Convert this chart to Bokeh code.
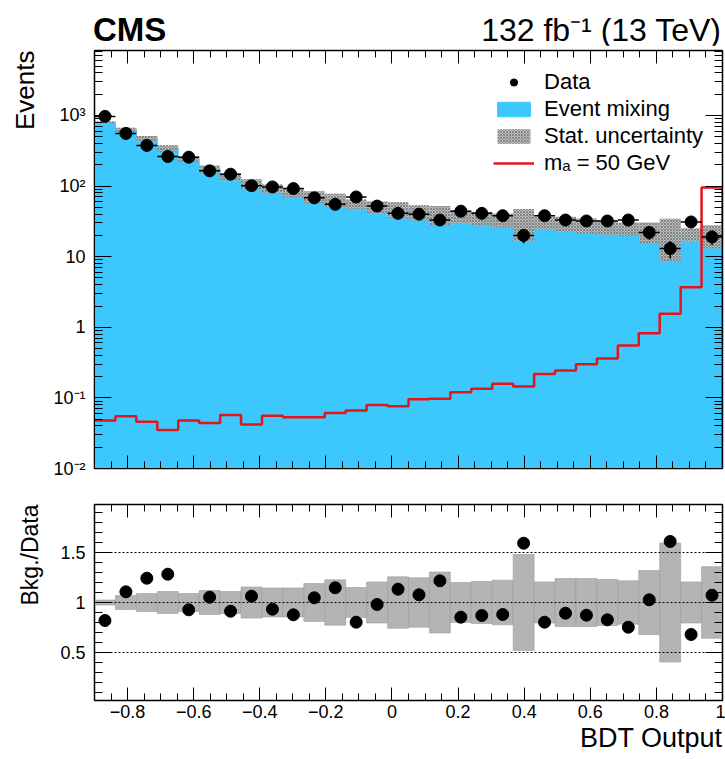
import numpy as np
from bokeh.plotting import figure
from bokeh.layouts import column
from bokeh.models import (Range1d, FixedTicker, LinearAxis, LogAxis, Legend,
                          LegendItem, Span, Title, Div)
from bokeh.embed import file_html
from bokeh.resources import INLINE

# ---------------- data ----------------
x_lo, x_hi = -0.9, 1.0
n_bins = 30
data = [968, 556, 376, 262, 256, 164, 147, 101, 97, 92, 68, 55, 70, 52, 41,
        40, 33, 44, 41, 38, 20, 38, 33, 32, 32, 33, 22, 13, 31, 19]
bkg = [800, 625, 467, 340, 240, 174, 136, 108, 92, 81, 71, 63.5, 56, 50.5, 47,
       43, 40, 37.5, 35.5, 33.5, 32, 30.5, 29.5, 28, 26.5, 25, 23, 21.5, 21, 20.5]
ratio = [0.82, 1.107, 1.243, 1.283, 0.927, 1.053, 0.913, 1.063, 0.933, 0.877,
         1.047, 1.147, 0.803, 0.98, 1.133, 1.077, 1.217, 0.853, 0.87, 0.88,
         1.593, 0.803, 0.893, 0.873, 0.827, 0.753, 1.027, 1.61, 0.68, 1.073]
ratio_err = [0.025, 0.07, 0.09, 0.11, 0.09, 0.12, 0.11, 0.155, 0.145, 0.145,
             0.19, 0.227, 0.15, 0.205, 0.257, 0.247, 0.305, 0.2, 0.21, 0.223,
             0.48, 0.205, 0.24, 0.24, 0.23, 0.217, 0.32, 0.595, 0.205, 0.358]
signal = [0.048, 0.055, 0.046, 0.035, 0.048, 0.044, 0.057, 0.042, 0.056, 0.053,
          0.053, 0.061, 0.066, 0.079, 0.076, 0.096, 0.097, 0.12, 0.135, 0.158,
          0.145, 0.217, 0.245, 0.30, 0.36, 0.55, 0.82, 1.55, 3.7, 95]

x_major = [-0.8, -0.6, -0.4, -0.2, 0.0, 0.2, 0.4, 0.6, 0.8, 1.0]
x_labels = {-0.8: "\u22120.8", -0.6: "\u22120.6", -0.4: "\u22120.4", -0.2: "\u22120.2",
            0.0: "0", 0.2: "0.2", 0.4: "0.4", 0.6: "0.6", 0.8: "0.8", 1.0: "1"}
y_major = [0.01, 0.1, 1, 10, 100, 1000]
y_labels = {0.01: "10\u207b\u00b2", 0.1: "10\u207b\u00b9", 1: "1", 10: "10",
            100: "10\u00b2", 1000: "10\u00b3"}
r_major = [0.5, 1.0, 1.5]
r_labels = {0.5: "0.5", 1.0: "1", 1.5: "1.5"}

FONT = "Liberation Sans"
BLUE = "#3cc8fc"

data = np.array(data, float)
bkg = np.array(bkg, float)
ratio = np.array(ratio, float)
ratio_err = np.array(ratio_err, float)
signal = np.array(signal, float)
edges = np.linspace(x_lo, x_hi, n_bins + 1)
left, right = edges[:-1], edges[1:]
centers = 0.5 * (left + right)

Y1 = (0.01, 8300.0)
R2 = (0.02, 1.98)
W = 725
FW, FH1, FH2 = 628, 418, 196
HEAD = 45

x_minor = [round(v, 3) for v in np.arange(x_lo, x_hi + 1e-9, 0.05)]
y_minor = [k * 10.0 ** e for e in range(-2, 4) for k in range(2, 10)]
r_minor = [round(v, 2) for v in np.arange(0.1, 1.95, 0.1)]


def style_axis(ax, tin, tmin, labels=True, size="18px"):
    ax.major_tick_in = tin
    ax.major_tick_out = 0
    ax.minor_tick_in = tmin
    ax.minor_tick_out = 0
    ax.axis_line_color = "black"
    ax.major_tick_line_color = "black"
    ax.minor_tick_line_color = "black"
    ax.major_label_text_font = FONT
    ax.major_label_text_color = "black"
    ax.major_label_text_font_size = size
    ax.major_label_standoff = 7
    if not labels:
        ax.major_label_text_font_size = "1px"
        ax.major_label_text_color = None
        ax.major_label_standoff = 0


# ---------------- header (CMS / luminosity) ----------------
head_html = (
    f'<div style="position:relative;width:{W}px;height:{HEAD}px;'
    f"font-family:'{FONT}',Arial,sans-serif;color:black;\">"
    '<span style="position:absolute;left:93px;top:13px;font-weight:bold;'
    'font-size:33px;line-height:1;white-space:nowrap;">CMS</span>'
    '<span style="position:absolute;right:4px;top:14px;font-size:32px;'
    'line-height:1;white-space:nowrap;">132 fb\u207b\u00b9 (13 TeV)</span>'
    '</div>'
)
p0 = Div(text=head_html, width=W, height=HEAD, margin=0)

# ---------------- top panel ----------------
p1 = figure(title=None, frame_width=FW, frame_height=FH1,
            x_range=Range1d(x_lo, x_hi), y_range=Range1d(*Y1),
            y_axis_type="log", output_backend="svg", toolbar_location=None,
            min_border_left=93, min_border_right=4, min_border_top=5,
            min_border_bottom=18)
p1.grid.visible = False
p1.outline_line_color = "black"
p1.outline_line_width = 1.5

xt = FixedTicker(ticks=x_major, minor_ticks=x_minor)
yt = FixedTicker(ticks=y_major, minor_ticks=y_minor)
p1.xaxis.ticker = xt
style_axis(p1.xaxis[0], 13, 7, labels=False)
p1.yaxis.ticker = yt
p1.yaxis.major_label_overrides = y_labels
style_axis(p1.yaxis[0], 17, 8)
p1.yaxis.major_label_standoff = 9

ax_top = LinearAxis(ticker=xt)
style_axis(ax_top, 13, 7, labels=False)
p1.add_layout(ax_top, "above")
ax_right = LogAxis(ticker=yt)
style_axis(ax_right, 17, 8, labels=False)
p1.add_layout(ax_right, "right")

p1.add_layout(Title(text="Events", align="right", vertical_align="top",
                    text_font=FONT, text_font_style="normal", text_font_size="26px",
                    text_color="black", standoff=18), "left")

r_bkg = p1.quad(left=left, right=right, bottom=Y1[0], top=bkg,
                fill_color=BLUE, line_color=BLUE, line_width=1)
r_unc = p1.quad(left=left, right=right, bottom=bkg * (1 - ratio_err),
                top=bkg * (1 + ratio_err), fill_color="#bcbcbc", fill_alpha=0.95,
                line_alpha=0, hatch_pattern="diagonal_cross", hatch_scale=3,
                hatch_color="#5e5e5e", hatch_weight=0.6)

sx = list(np.repeat(edges, 2)[1:-1]) + [x_hi]
sy = list(np.repeat(signal, 2)) + [Y1[0]]
r_sig = p1.line(sx, sy, line_color="#e3141c", line_width=2.5)

p1.segment(x0=centers, x1=centers, y0=data - np.sqrt(data), y1=data + np.sqrt(data),
           line_color="black", line_width=1.5)
p1.segment(x0=left, x1=right, y0=data, y1=data, line_color="black", line_width=1.5)
r_dat = p1.scatter(centers, data, size=12, color="black")

legend = Legend(items=[LegendItem(label="Data", renderers=[r_dat]),
                       LegendItem(label="Event mixing", renderers=[r_bkg]),
                       LegendItem(label="Stat. uncertainty", renderers=[r_unc]),
                       LegendItem(label="m\u2090 = 50 GeV", renderers=[r_sig])],
                location="top_right", glyph_width=41, glyph_height=18,
                label_height=18, spacing=1, label_standoff=10, padding=0,
                margin=19, border_line_alpha=0, background_fill_alpha=0,
                label_text_font=FONT, label_text_font_size="22px",
                label_text_color="black")
p1.add_layout(legend)

# ---------------- ratio panel ----------------
p2 = figure(title=None, frame_width=FW, frame_height=FH2,
            x_range=p1.x_range, y_range=Range1d(*R2),
            output_backend="svg", toolbar_location=None,
            min_border_left=93, min_border_right=4, min_border_top=18,
            min_border_bottom=59)
p2.grid.visible = False
p2.outline_line_color = "black"
p2.outline_line_width = 1.5

rt = FixedTicker(ticks=r_major, minor_ticks=r_minor)
p2.xaxis.ticker = xt
p2.xaxis.major_label_overrides = x_labels
style_axis(p2.xaxis[0], 13, 7)
p2.xaxis.major_label_standoff = 4
p2.yaxis.ticker = rt
p2.yaxis.major_label_overrides = r_labels
style_axis(p2.yaxis[0], 17, 8)
p2.yaxis.major_label_standoff = 9

ax_top2 = LinearAxis(ticker=xt)
style_axis(ax_top2, 13, 7, labels=False)
p2.add_layout(ax_top2, "above")
ax_right2 = LinearAxis(ticker=rt)
style_axis(ax_right2, 17, 8, labels=False)
p2.add_layout(ax_right2, "right")

p2.add_layout(Title(text="Bkg./Data", align="right", vertical_align="top",
                    text_font=FONT, text_font_style="normal", text_font_size="23px",
                    text_color="black", standoff=26), "left")
p2.add_layout(Title(text="BDT Output", align="right", text_font=FONT,
                    text_font_style="normal", text_font_size="27px",
                    text_color="black", standoff=0), "below")

p2.quad(left=left, right=right, bottom=1 - ratio_err, top=1 + ratio_err,
        fill_color="#b4b4b4", line_color="#9c9c9c", line_width=0.6)
for lvl in r_major:
    p2.add_layout(Span(location=lvl, dimension="width", line_color="black",
                       line_dash="2 2", line_width=1.2))
p2.scatter(centers, ratio, size=12, color="black")

layout = column(p0, p1, p2, spacing=0)
open("out.html", "w").write(file_html(layout, INLINE))
